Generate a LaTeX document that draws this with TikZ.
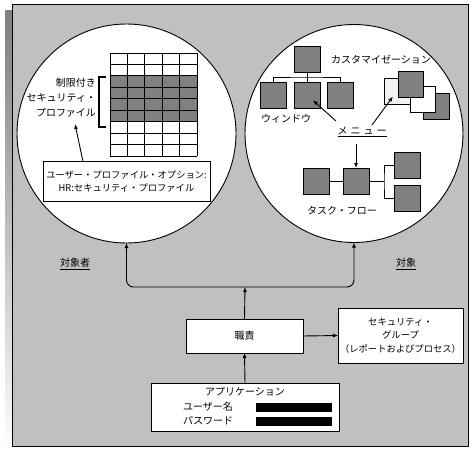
\documentclass[tikz,border=0pt]{standalone}
\usepackage{fontspec}
\setmainfont{Noto Sans CJK JP}
\usetikzlibrary{arrows.meta}
\definecolor{bg}{HTML}{C0C0C0}
\definecolor{shade}{HTML}{808080}
\definecolor{sq}{HTML}{808080}
\definecolor{lightsq}{HTML}{F2F2F2}
\begin{document}
\begin{tikzpicture}[x=1pt,y=-1pt,line width=0.9pt,
  every node/.style={font=\fontsize{10}{13}\selectfont,inner sep=0pt,outer sep=0pt},
  arr/.style={-{Latex[length=5pt,width=4pt]}},
  box/.style={draw,fill=white},
  dsq/.style={draw,fill=sq,minimum width=26pt,minimum height=26pt},
  bubble/.style={circle,draw,fill=white},
  lbl/.style={font=\fontsize{10}{13}\selectfont},
]
\useasboundingbox (0,0) rectangle (472,456);
% frame with shadow
\fill[shade] (5,10) rectangle (461,452);
\draw[fill=bg] (12,4) rectangle (468,446);

% circles
\node[bubble,minimum size=219pt] (lc) at (126.5,133.5) {};
\node[bubble,minimum size=218pt] (rc) at (354,133.5) {};

% ---------- left circle ----------
\fill[sq] (110,75.9) rectangle (197,121.7);
\foreach \i in {0,...,9} \draw (110,53+\i*11.444) -- (197,53+\i*11.444);
\foreach \j in {0,...,5} \draw (110+\j*17.4,53) -- (110+\j*17.4,156);
\draw[line width=2pt] (106,77) -- (99,77) -- (99,127) -- (106,127);
\node[anchor=east,align=right,font=\fontsize{10}{15}\selectfont] (rlabel) at (96,98)
  {制限付き\\セキュリティ・\\プロファイル};
\node[box,minimum width=167pt,minimum height=40pt,align=center,
  font=\fontsize{9.3}{13}\selectfont] (hrbox) at (126.5,181.5)
  {ユーザー・プロファイル・オプション:\\HR:セキュリティ・プロファイル};
\coordinate (rtip) at (75,124);
\draw[arr] ([xshift=-43.5pt]hrbox.north) -- (rtip);

% ---------- right circle ----------
\node[dsq] (wtop) at (307,59) {};
\node[dsq] (w1) at (273,95) {};
\node[dsq] (w2) at (307,95) {};
\node[dsq] (w3) at (340,95) {};
\coordinate (tj) at (307,77);
\draw (wtop.south) -- (tj);
\draw (w1.north) |- (tj) -| (w3.north);
\draw (w2.north) -- (tj);
\node[lbl] (wlab) at (286,119) {ウィンドウ};
\node[lbl] (clab) at (381,60) {カスタマイゼーション};

\node[draw,fill=sq,minimum width=26pt,minimum height=26pt] (c1) at (436,106) {};
\node[draw,fill=white,minimum width=25pt,minimum height=26pt] (c2) at (422.5,99.5) {};
\node[draw,fill=lightsq,minimum width=26pt,minimum height=26pt] (c3) at (397,91) {};
\node[draw,fill=sq,minimum width=25pt,minimum height=26pt] (c4) at (410.5,84) {};

\node[lbl] (menu) at (362,132) {\underline{メ\hspace{3pt}ニ\hspace{3pt}ュ\hspace{3pt}ー}};
\coordinate (m1) at (336,121);
\coordinate (m2) at (372,125);
\coordinate (m3) at (356,144);
\draw[arr,shorten >=8pt] (m1) -- (w2.center);
\draw[arr,shorten >=7pt] (m2) -- (c3.center);

\node[dsq] (t1) at (316.5,181) {};
\node[dsq] (t2) at (356,181) {};
\node[dsq] (t3) at (407,165) {};
\node[dsq] (t4) at (407,198) {};
\draw[arr] (m3) -- (t2.north);
\draw (t1.east) -- (t2.west);
\coordinate (tj2) at (384,181);
\draw (t2.east) -- (tj2);
\draw (t3.west) -| (tj2) |- (t4.west);
\node[lbl] (tlab) at (342,211) {タスク・フロー};

% ---------- lower part ----------
\node[lbl] (who) at (75,264) {\underline{対象者}};
\node[lbl] (what) at (406,264) {\underline{対象}};

\node[box,minimum width=117pt,minimum height=34pt] (duty) at (244.5,336) {職責};
\node[box,minimum width=125pt,minimum height=55pt,align=center,
  font=\fontsize{9.3}{13.5}\selectfont] (sec) at (400.5,335.5)
  {セキュリティ・\\グループ\\（レポートおよびプロセス）};
\node[box,minimum width=188pt,minimum height=48pt] (app) at (245,407) {};
\node[lbl] (apptitle) at (245,392) {アプリケーション};
\node[lbl,anchor=west] (uname) at (183,407) {ユーザー名};
\node[lbl,anchor=west] (pwd) at (183,421) {パスワード};
\fill (256,403) rectangle (332,412);
\fill (256,417) rectangle (332,426);

\coordinate (jn) at (245,287);
\draw[arr] (app.north) -- (duty.south);
\draw[arr] (duty.east) -- (sec.west);
\draw[arr] (duty.north) -- (jn);
\draw[arr,rounded corners=7pt] (jn) -| (lc.south);
\draw[arr,rounded corners=7pt] (jn) -| (rc.south);
\end{tikzpicture}
\end{document}
